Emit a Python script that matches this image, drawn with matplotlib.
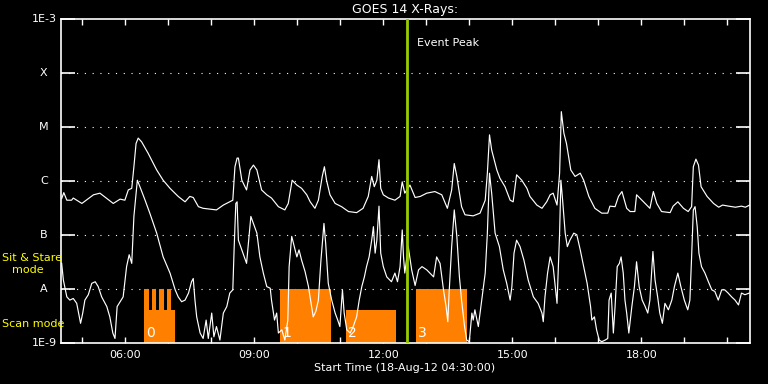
import numpy as np
import matplotlib
matplotlib.use("Agg")
import matplotlib.pyplot as plt
from matplotlib.ticker import FixedLocator, FuncFormatter, NullLocator

# ---------------- data ----------------
# long channel (1-8 A), hours of day, log10 flux (W/m^2)
long_t = [4.52, 4.57, 4.64, 4.75, 4.79, 4.99, 5.26, 5.41, 5.72, 5.88, 5.99, 6.07, 6.15, 6.20, 6.25, 6.30,
          6.38, 6.53, 6.73, 6.88, 7.04, 7.23, 7.39, 7.50, 7.58, 7.70, 7.81, 8.01, 8.12, 8.28, 8.50, 8.55,
          8.60, 8.63, 8.71, 8.82, 8.90, 8.98, 9.06, 9.17, 9.29, 9.40, 9.56, 9.71, 9.79, 9.88, 9.99, 10.10,
          10.22, 10.30, 10.41, 10.49, 10.58, 10.63, 10.68, 10.76, 10.88, 11.03, 11.19, 11.38, 11.53, 11.65,
          11.73, 11.79, 11.85, 11.90, 11.94, 12.00, 12.12, 12.27, 12.39, 12.44, 12.50, 12.62, 12.74, 12.86,
          13.01, 13.20, 13.36, 13.49, 13.59, 13.65, 13.71, 13.82, 13.90, 14.09, 14.25, 14.37, 14.42, 14.47,
          14.52, 14.64, 14.71, 14.83, 14.95, 15.02, 15.10, 15.22, 15.34, 15.41, 15.57, 15.69, 15.80, 15.88,
          15.95, 16.04, 16.10, 16.14, 16.20, 16.26, 16.36, 16.46, 16.58, 16.66, 16.78, 16.92, 17.08, 17.22,
          17.27, 17.39, 17.47, 17.55, 17.66, 17.74, 17.85, 17.89, 18.05, 18.20, 18.28, 18.36, 18.47, 18.67,
          18.74, 18.85, 18.98, 19.09, 19.17, 19.21, 19.27, 19.33, 19.39, 19.53, 19.68, 19.80, 19.89, 20.03,
          20.19, 20.33, 20.42, 20.52]
long_log = [-6.32, -6.21, -6.35, -6.35, -6.31, -6.41, -6.25, -6.22, -6.41, -6.33, -6.35, -6.16, -6.13, -5.73, -5.30, -5.20,
            -5.27, -5.48, -5.79, -5.98, -6.13, -6.28, -6.38, -6.28, -6.30, -6.47, -6.50, -6.52, -6.53, -6.44, -6.35, -5.73,
            -5.57, -5.57, -5.98, -6.16, -5.79, -5.70, -5.79, -6.16, -6.25, -6.31, -6.47, -6.53, -6.41, -5.98, -6.07, -6.13,
            -6.25, -6.38, -6.50, -6.35, -5.91, -5.73, -5.98, -6.25, -6.41, -6.47, -6.56, -6.58, -6.50, -6.28,
            -5.91, -6.10, -5.98, -5.60, -6.13, -6.25, -6.31, -6.35, -6.28, -6.01, -6.22, -6.07, -6.30, -6.28,
            -6.22, -6.19, -6.25, -6.50, -6.16, -5.67, -5.91, -6.47, -6.62, -6.64, -6.59, -6.35, -5.85, -5.14,
            -5.42, -5.79, -5.94, -6.10, -6.35, -6.38, -5.88, -5.98, -6.13, -6.28, -6.44, -6.50, -6.38, -6.25,
            -6.22, -6.44, -5.85, -4.71, -5.11, -5.30, -5.79, -5.91, -5.85, -5.98, -6.28, -6.50, -6.59, -6.59,
            -6.46, -6.47, -6.28, -6.19, -6.50, -6.56, -6.56, -6.25, -6.38, -6.50, -6.19, -6.41, -6.56, -6.58,
            -6.46, -6.38, -6.50, -6.56, -6.47, -5.73, -5.59, -5.70, -6.10, -6.28, -6.41, -6.48, -6.44, -6.46,
            -6.48, -6.46, -6.48, -6.44]

# short channel (0.5-4 A)
short_t = [4.52, 4.56, 4.64, 4.71, 4.79, 4.87, 4.93, 4.96, 5.01, 5.06, 5.14, 5.22, 5.30, 5.37, 5.45, 5.57,
           5.64, 5.71, 5.76, 5.81, 5.88, 5.95, 6.03, 6.09, 6.15, 6.20, 6.28, 6.34, 6.46, 6.57, 6.73, 6.88,
           7.04, 7.16, 7.23, 7.31, 7.39, 7.47, 7.54, 7.58, 7.62, 7.66, 7.74, 7.81, 7.88, 7.93, 8.01, 8.06,
           8.12, 8.20, 8.28, 8.36, 8.43, 8.50, 8.53, 8.57, 8.60, 8.63, 8.70, 8.82, 8.92, 9.06, 9.13, 9.21,
           9.29, 9.37, 9.40, 9.47, 9.52, 9.56, 9.64, 9.71, 9.78, 9.81, 9.87, 9.93, 9.99, 10.04, 10.10, 10.18,
           10.26, 10.32, 10.37, 10.43, 10.49, 10.55, 10.62, 10.66, 10.72, 10.80, 10.88, 10.94, 10.99, 11.05,
           11.09, 11.15, 11.23, 11.30, 11.38, 11.44, 11.50, 11.56, 11.61, 11.67, 11.73, 11.77, 11.81, 11.85,
           11.90, 11.94, 12.00, 12.08, 12.19, 12.27, 12.33, 12.39, 12.44, 12.47, 12.50, 12.58, 12.66, 12.74,
           12.82, 12.90, 13.01, 13.17, 13.24, 13.32, 13.40, 13.46, 13.50, 13.53, 13.59, 13.65, 13.71, 13.77,
           13.82, 13.89, 13.94, 14.00, 14.06, 14.09, 14.13, 14.21, 14.29, 14.37, 14.42, 14.47, 14.52, 14.60,
           14.70, 14.79, 14.87, 14.95, 14.99, 15.04, 15.10, 15.18, 15.27, 15.37, 15.49, 15.60, 15.69, 15.72,
           15.76, 15.82, 15.88, 15.95, 16.00, 16.04, 16.10, 16.13, 16.17, 16.23, 16.28, 16.34, 16.43, 16.50,
           16.58, 16.66, 16.74, 16.82, 16.85, 16.91, 16.96, 17.02, 17.08, 17.16, 17.22, 17.25, 17.30, 17.35,
           17.39, 17.44, 17.49, 17.53, 17.58, 17.62, 17.66, 17.71, 17.78, 17.84, 17.89, 17.95, 18.02, 18.09,
           18.15, 18.20, 18.27, 18.32, 18.38, 18.43, 18.49, 18.55, 18.63, 18.71, 18.77, 18.85, 18.92, 19.00,
           19.08, 19.13, 19.17, 19.21, 19.25, 19.30, 19.34, 19.40, 19.48, 19.56, 19.64, 19.71, 19.79, 19.87,
           19.94, 20.02, 20.10, 20.18, 20.26, 20.33, 20.41, 20.51]
short_log = [-7.52, -7.83, -8.14, -8.20, -8.17, -8.26, -8.51, -8.63, -8.44, -8.20, -8.10, -7.89, -7.86, -7.95, -8.14, -8.32,
             -8.51, -8.81, -8.91, -8.32, -8.23, -8.14, -7.58, -7.36, -7.52, -6.65, -5.98, -6.10, -6.35, -6.59, -6.96, -7.40,
             -7.70, -8.01, -8.14, -8.23, -8.20, -8.07, -7.86, -7.80, -8.20, -8.51, -8.81, -8.91, -8.57, -8.91, -8.44, -8.88,
             -8.69, -8.94, -8.44, -8.32, -8.07, -8.01, -7.27, -6.41, -6.38, -7.09, -7.25, -7.52, -6.65, -6.96, -7.40, -7.70,
             -7.95, -7.98, -8.20, -8.57, -8.44, -8.81, -8.75, -8.94, -8.57, -7.58, -7.02, -7.21, -7.40, -7.27, -7.46, -7.67,
             -7.95, -8.26, -8.51, -8.41, -8.20, -7.46, -6.78, -7.15, -7.89, -8.20, -8.44, -8.57, -8.69, -8.01,
             -8.44, -8.75, -8.81, -8.69, -8.51, -8.20, -7.95, -7.77, -7.58, -7.40, -7.09, -6.84, -7.33, -7.09,
             -6.46, -7.33, -7.58, -7.77, -7.86, -7.70, -7.86, -7.58, -6.90, -7.40, -7.70, -7.21, -7.64, -7.93,
             -7.64, -7.58, -7.64, -7.77, -7.40, -7.52, -8.01, -8.32, -8.60, -8.07, -7.21, -6.53, -7.02, -7.77,
             -8.20, -8.69, -8.94, -8.97, -8.44, -8.57, -8.38, -8.69, -8.20, -7.70, -6.96, -5.85, -6.22, -6.96,
             -7.21, -7.64, -7.89, -8.20, -7.95, -7.33, -7.09, -7.21, -7.46, -7.83, -8.14, -8.26, -8.44, -8.60,
             -8.14, -7.70, -7.40, -7.58, -7.95, -8.26, -6.96, -5.98, -6.35, -6.96, -7.21, -7.09, -6.96, -6.99,
             -7.27, -7.58, -7.89, -8.32, -8.57, -8.51, -8.75, -8.94, -8.97, -8.94, -8.91, -8.20, -8.07, -8.81,
             -8.32, -7.58, -7.52, -7.40, -7.70, -8.20, -8.44, -8.81, -8.32, -7.95, -7.49, -7.95, -8.20, -8.32,
             -8.44, -8.20, -7.30, -7.83, -8.14, -8.44, -8.63, -8.26, -8.38, -8.20, -7.95, -7.70, -7.95, -8.20,
             -8.38, -8.20, -7.40, -6.53, -6.47, -6.84, -7.33, -7.58, -7.70, -7.86, -8.01, -8.04, -8.20, -8.01,
             -8.01, -8.07, -8.14, -8.20, -8.29, -8.07, -8.10, -8.07]

# instrument observing-mode segments (start hour, end hour)
scan_segments = [(6.435, 7.156), (11.126, 12.295)]
stare_segments = [(6.435, 6.544), (6.614, 6.721), (6.791, 6.900), (6.963, 7.056),
                  (9.598, 10.784), (12.760, 13.940)]
segment_labels = ["0", "1", "2", "3"]
segment_label_t = [6.435, 9.598, 11.126, 12.760]
scan_level = 4.1e-9
stare_level = 1e-8

event_peak_t = 12.544
ytick_vals = [1e-3, 1e-4, 1e-5, 1e-6, 1e-7, 1e-8, 1e-9]
ytick_names = ["1E-3", "X", "M", "C", "B", "A", "1E-9"]
xtick_hours = list(range(5, 21))

# ---------------- plot ----------------
W, H = 768, 384
fig = plt.figure(figsize=(W / 100, H / 100), dpi=100, facecolor="black")
L, R, T, B = 60.8, 750.3, 19.3, 343.3
ax = fig.add_axes([L / W, 1 - B / H, (R - L) / W, (B - T) / H], facecolor="black")
ax.set_yscale("log")
ax.set_ylim(1e-9, 1e-3)
ax.set_xlim(4.5, 4.5 + (R - L) / 43.0)

orange = "#ff8000"
for a, b in scan_segments:
    ax.fill_between([a, b], 1e-9, scan_level, color=orange, lw=0, zorder=2)
for a, b in stare_segments:
    ax.fill_between([a, b], 1e-9, stare_level, color=orange, lw=0, zorder=2)
for lab, t0 in zip(segment_labels, segment_label_t):
    ax.text(t0 + 0.05, 1.15e-9, lab, color="white", fontsize=10, ha="left", va="bottom", zorder=3)

ax.plot(long_t, 10 ** np.array(long_log), color="white", lw=0.85, zorder=4)
ax.plot(short_t, 10 ** np.array(short_log), color="white", lw=0.85, zorder=4)

ax.axvline(event_peak_t, color="#99cc00", lw=2.0, zorder=5)
ax.text(event_peak_t + 0.24, 0.927, "Event Peak", color="white", fontsize=8,
        ha="left", va="center", transform=ax.get_xaxis_transform())

# grid
for v in ytick_vals[1:-1]:
    ax.axhline(v, color="white", lw=0.8, ls=(0, (1, 6)), zorder=1)

# y ticks
ax.yaxis.set_major_locator(FixedLocator(ytick_vals))
ax.yaxis.set_minor_locator(NullLocator())
ax.set_yticklabels([])
ax.tick_params(axis="y", which="major", direction="in", length=10, width=1.2,
               color="white", left=True, right=True)
ytr = ax.get_yaxis_transform()
for v, name in zip(ytick_vals, ytick_names):
    if name.startswith("1E"):
        ax.text(-0.0055, v, name, color="white", fontsize=8, ha="right", va="center", transform=ytr)
    else:
        ax.text(-0.0244, v, name, color="white", fontsize=8, ha="center", va="center", transform=ytr)

# x ticks
ax.xaxis.set_major_locator(FixedLocator(xtick_hours))
ax.xaxis.set_major_formatter(FuncFormatter(lambda h, p: f"{int(round(h)):02d}:00" if int(round(h)) % 3 == 0 else ""))
ax.tick_params(axis="x", which="major", direction="in", length=4, width=1.0, color="white",
               top=True, bottom=True, labelcolor="white", labelsize=8, pad=5)

for s in ax.spines.values():
    s.set_color("white")
    s.set_linewidth(1.2)

# texts
fig.text(405 / W, 1 - 10 / H, "GOES 14 X-Rays:", color="white", fontsize=9, ha="center", va="center")
fig.text(405 / W, 1 - 368 / H, "Start Time (18-Aug-12 04:30:00)", color="white", fontsize=8,
         ha="center", va="center")
yellow = "#ffff00"
fig.text(2 / W, 1 - 258 / H, "Sit & Stare", color=yellow, fontsize=8, ha="left", va="center")
fig.text(12 / W, 1 - 270 / H, "mode", color=yellow, fontsize=8, ha="left", va="center")
fig.text(2 / W, 1 - 324 / H, "Scan mode", color=yellow, fontsize=8, ha="left", va="center")

fig.savefig("out.png", dpi=100, facecolor="black")
